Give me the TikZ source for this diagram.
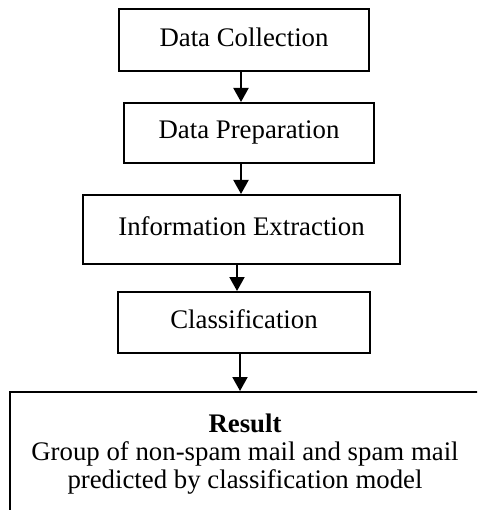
\documentclass[tikz,border=0pt]{standalone}
\usepackage{fontspec}
\setmainfont{Liberation Serif}
\usetikzlibrary{arrows.meta,positioning}

\begin{document}
\begin{tikzpicture}[x=1pt,y=1pt,on grid,node distance=93pt,
        stage/.style={draw,line width=2pt,minimum width=250pt,minimum height=61pt,
          text depth=6pt,font=\fontsize{26.8pt}{27.8pt}\selectfont},
        flow/.style={-{Triangle[width=15pt,length=14pt]},line width=2pt}]
        \useasboundingbox (0,0) rectangle (477,-510);
        \clip (0,0) rectangle (477,-510);
        \node[stage,minimum height=62pt] (data_col) at (244,-40) {Data Collection};
        \node[stage,minimum height=60pt] (data_prep) [below=of data_col,xshift=5pt] {Data Preparation};
        \node[stage,minimum width=317pt,minimum height=69pt] (info_ext) [below=96.5pt of data_prep,xshift=-7.5pt] {Information Extraction};
        \node[stage,minimum width=252pt] (classif) [below=of info_ext,xshift=2.5pt] {Classification};
        \node[stage,minimum width=470pt,minimum height=124pt,align=center] (result) [below=131.5pt of classif,xshift=1pt]
          {\textbf{Result}\\Group of non-spam mail and spam mail\\predicted by classification model};
        \draw[flow] ([xshift=-3pt]data_col.south) -- ([xshift=-3pt]data_col.south |- data_prep.north);
        \draw[flow] ([xshift=-8pt]data_prep.south) -- ([xshift=-8pt]data_prep.south |- info_ext.north);
        \draw[flow] ([xshift=-4.5pt]info_ext.south) -- ([xshift=-4.5pt]info_ext.south |- classif.north);
        \draw[flow] ([xshift=-4pt]classif.south) -- ([xshift=-4pt]classif.south |- result.north);
    \end{tikzpicture}
\end{document}
